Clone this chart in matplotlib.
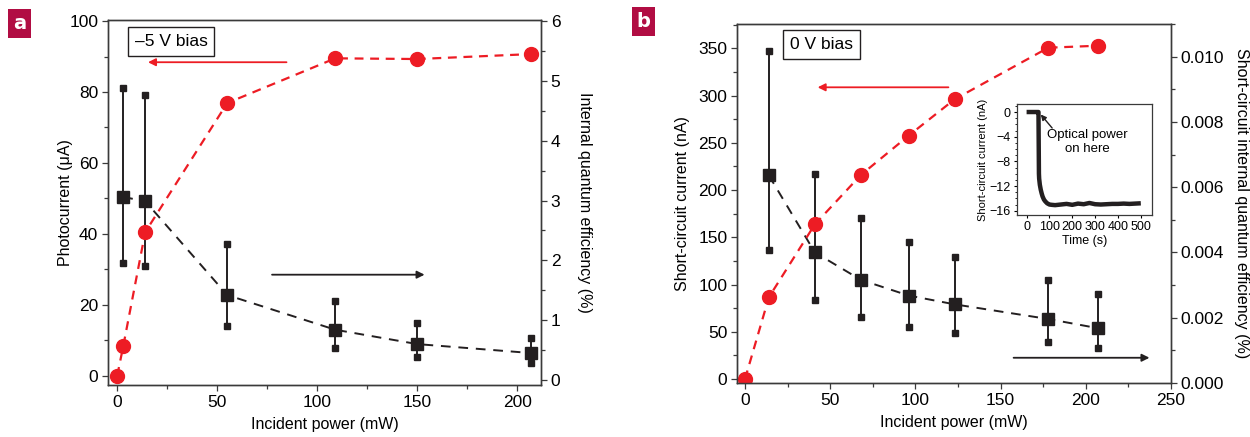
import numpy as np
import matplotlib
matplotlib.use('Agg')
from matplotlib import pyplot as plt
from matplotlib.ticker import MultipleLocator, FormatStrFormatter

plt.rcParams['font.family'] = ['Liberation Sans Narrow', 'Liberation Sans', 'DejaVu Sans']
plt.rcParams['font.size'] = 12

RED = '#ed1c24'
BLK = '#231f20'
LABEL_BG = '#b10d43'

# panel a: -5 V bias
a_power = [0, 3, 14, 55, 109, 150, 207]
a_photocurrent = [0, 8.3, 40.5, 76.9, 89.5, 89.3, 90.7]      # uA
a_qe_power = [3, 14, 55, 109, 150, 207]
a_qe = [3.06, 2.99, 1.42, 0.84, 0.60, 0.45]                    # %
a_qe_hi = [4.89, 4.77, 2.27, 1.32, 0.96, 0.71]
a_qe_lo = [1.96, 1.91, 0.91, 0.53, 0.39, 0.29]

# panel b: 0 V bias
b_power = [0, 14, 41, 68, 96, 123, 178, 207]
b_current = [0, 86.5, 163.7, 215.9, 257.5, 296, 350.6, 352.7]   # nA
b_qe_power = [14, 41, 68, 96, 123, 178, 207]
b_qe = [0.00636, 0.00400, 0.00316, 0.00268, 0.00241, 0.00196, 0.00168]
b_qe_hi = [0.01018, 0.00640, 0.00506, 0.00432, 0.00387, 0.00316, 0.00272]
b_qe_lo = [0.00406, 0.00255, 0.00202, 0.00172, 0.00152, 0.00125, 0.00106]

# inset: short-circuit current vs time
t_s = [0, 20, 40, 52, 54, 55, 58, 62, 66, 70, 76, 82, 90, 100, 110, 125, 150,
       175, 200, 225, 250, 275, 300, 325, 350, 375, 400, 425, 450, 475, 500]
i_sc = [0, 0, 0, 0, -10.0, -10.8, -11.8, -12.6, -13.2, -13.7, -14.2, -14.5,
        -14.8, -15.0, -15.05, -15.1, -15.0, -14.9, -15.05, -14.85, -14.95,
        -14.75, -14.95, -15.0, -14.95, -14.9, -14.9, -14.85, -14.9, -14.85, -14.8]


def style_axes(ax, ax2):
    for s in ax.spines.values():
        s.set_color('#3a3a3a')
        s.set_linewidth(1.0)
    for s in ax2.spines.values():
        s.set_color('#3a3a3a')
        s.set_linewidth(1.0)
    for a in (ax, ax2):
        a.tick_params(which='major', length=4, width=0.9, color='#3a3a3a', labelsize=12.5, pad=3)
        a.tick_params(which='minor', length=3, width=0.9, color='#3a3a3a')
    # red series on top of the black one
    ax.set_zorder(ax2.get_zorder() + 1)
    ax.patch.set_visible(False)


def qe_series(ax2, x, y, hi, lo):
    ax2.vlines(x, lo, hi, color=BLK, lw=1.4)
    ax2.plot(x, hi, 's', color=BLK, ms=4.5, ls='none')
    ax2.plot(x, lo, 's', color=BLK, ms=4.5, ls='none')
    ax2.plot(x, y, 's--', color=BLK, ms=9, lw=1.4, dashes=(5, 4))


fig = plt.figure(figsize=(12.5, 4.37), dpi=100)

# ---------------- panel a
ax = fig.add_axes([0.0864, 0.119, 0.3464, 0.8352])
ax2 = ax.twinx()
style_axes(ax, ax2)
qe_series(ax2, a_qe_power, a_qe, a_qe_hi, a_qe_lo)
ax.plot(a_power, a_photocurrent, 'o--', color=RED, ms=10, lw=1.6, dashes=(4, 3))
ax.set_xlim(-4.6, 211.8)
ax.set_ylim(-2.6, 100.3)
ax2.set_ylim(-0.084, 6.02)
ax.xaxis.set_major_locator(MultipleLocator(50))
ax.xaxis.set_minor_locator(MultipleLocator(25))
ax.yaxis.set_major_locator(MultipleLocator(20))
ax.yaxis.set_minor_locator(MultipleLocator(10))
ax2.yaxis.set_major_locator(MultipleLocator(1))
ax2.yaxis.set_minor_locator(MultipleLocator(0.5))
ax.set_xlabel('Incident power (mW)', fontsize=11.5, labelpad=5)
ax.set_ylabel('Photocurrent (\u03bcA)', fontsize=11.5, labelpad=-3)
ax2.set_ylabel('Internal quantum efficiency (%)', fontsize=11.5, rotation=270, labelpad=23)
ax.text(0.1455, 0.941, '\u20135 V bias', transform=ax.transAxes, ha='center', va='center',
        fontsize=12.5, bbox=dict(boxstyle='square,pad=0.4', fc='white', ec=BLK, lw=1.0))
ax.annotate('', xy=(14, 88.4), xytext=(86, 88.4),
            arrowprops=dict(arrowstyle='-|>', color=RED, lw=1.3, mutation_scale=11))
ax.annotate('', xy=(155, 28.5), xytext=(76, 28.5),
            arrowprops=dict(arrowstyle='-|>', color=BLK, lw=1.3, mutation_scale=11))

# ---------------- panel b
bx = fig.add_axes([0.5896, 0.1236, 0.3472, 0.8215])
bx2 = bx.twinx()
style_axes(bx, bx2)
qe_series(bx2, b_qe_power, b_qe, b_qe_hi, b_qe_lo)
bx.plot(b_power, b_current, 'o--', color=RED, ms=10, lw=1.6, dashes=(4, 3))
bx.set_xlim(-4.7, 250)
bx.set_ylim(-4.2, 375.7)
bx2.set_ylim(0, 0.0110)
bx.xaxis.set_major_locator(MultipleLocator(50))
bx.xaxis.set_minor_locator(MultipleLocator(25))
bx.yaxis.set_major_locator(MultipleLocator(50))
bx.yaxis.set_minor_locator(MultipleLocator(25))
bx2.yaxis.set_major_locator(MultipleLocator(0.002))
bx2.yaxis.set_minor_locator(MultipleLocator(0.001))
bx2.yaxis.set_major_formatter(FormatStrFormatter('%.3f'))
bx.set_xlabel('Incident power (mW)', fontsize=11.5, labelpad=5)
bx.set_ylabel('Short-circuit current (nA)', fontsize=11.5, labelpad=6)
bx2.set_ylabel('Short-circuit internal quantum efficiency (%)', fontsize=11.5,
               rotation=270, labelpad=18)
bx.text(0.1947, 0.944, '0 V bias', transform=bx.transAxes, ha='center', va='center',
        fontsize=12.5, bbox=dict(boxstyle='square,pad=0.4', fc='white', ec=BLK, lw=1.0))
bx.annotate('', xy=(41, 308.7), xytext=(121, 308.7),
            arrowprops=dict(arrowstyle='-|>', color=RED, lw=1.3, mutation_scale=11))
bx.annotate('', xy=(239, 22.5), xytext=(156, 22.5),
            arrowprops=dict(arrowstyle='-|>', color=BLK, lw=1.3, mutation_scale=11))

# ---------------- inset
ix = fig.add_axes([0.8136, 0.508, 0.108, 0.254])
ix.plot(t_s, i_sc, color=BLK, lw=3.2, solid_capstyle='butt')
ix.set_xlim(-42, 549)
ix.set_ylim(-16.7, 1.3)
ix.xaxis.set_major_locator(MultipleLocator(100))
ix.yaxis.set_major_locator(MultipleLocator(4))
ix.yaxis.set_minor_locator(MultipleLocator(1))
ix.tick_params(which='major', length=2.5, width=0.8, labelsize=9, pad=2)
ix.tick_params(which='minor', length=1.5, width=0.6)
ix.set_yticks([0, -4, -8, -12, -16])
ix.set_yticklabels(['0', '\u22124', '\u22128', '\u221212', '\u221216'])
for s in ix.spines.values():
    s.set_linewidth(0.9)
    s.set_color('#3a3a3a')
ix.set_xlabel('Time (s)', fontsize=9, labelpad=1)
ix.set_ylabel('Short-circuit current (nA)', fontsize=8, labelpad=1)
ix.text(265, -4.8, 'Optical power\non here', ha='center', va='center',
        fontsize=9.5, linespacing=1.2)
ix.annotate('', xy=(62, -0.4), xytext=(112, -2.6),
            arrowprops=dict(arrowstyle='-|>', color=BLK, lw=1.0, mutation_scale=8,
                            shrinkA=0, shrinkB=0))

# panel letters
fig.text(0.0156, 0.947, 'a', color='white', fontsize=14, fontweight='bold',
         ha='center', va='center', family='DejaVu Sans',
         bbox=dict(boxstyle='square,pad=0.25', fc=LABEL_BG, ec='none'))
fig.text(0.5148, 0.951, 'b', color='white', fontsize=14, fontweight='bold',
         ha='center', va='center', family='DejaVu Sans',
         bbox=dict(boxstyle='square,pad=0.25', fc=LABEL_BG, ec='none'))

fig.savefig('out.png', dpi=100)
